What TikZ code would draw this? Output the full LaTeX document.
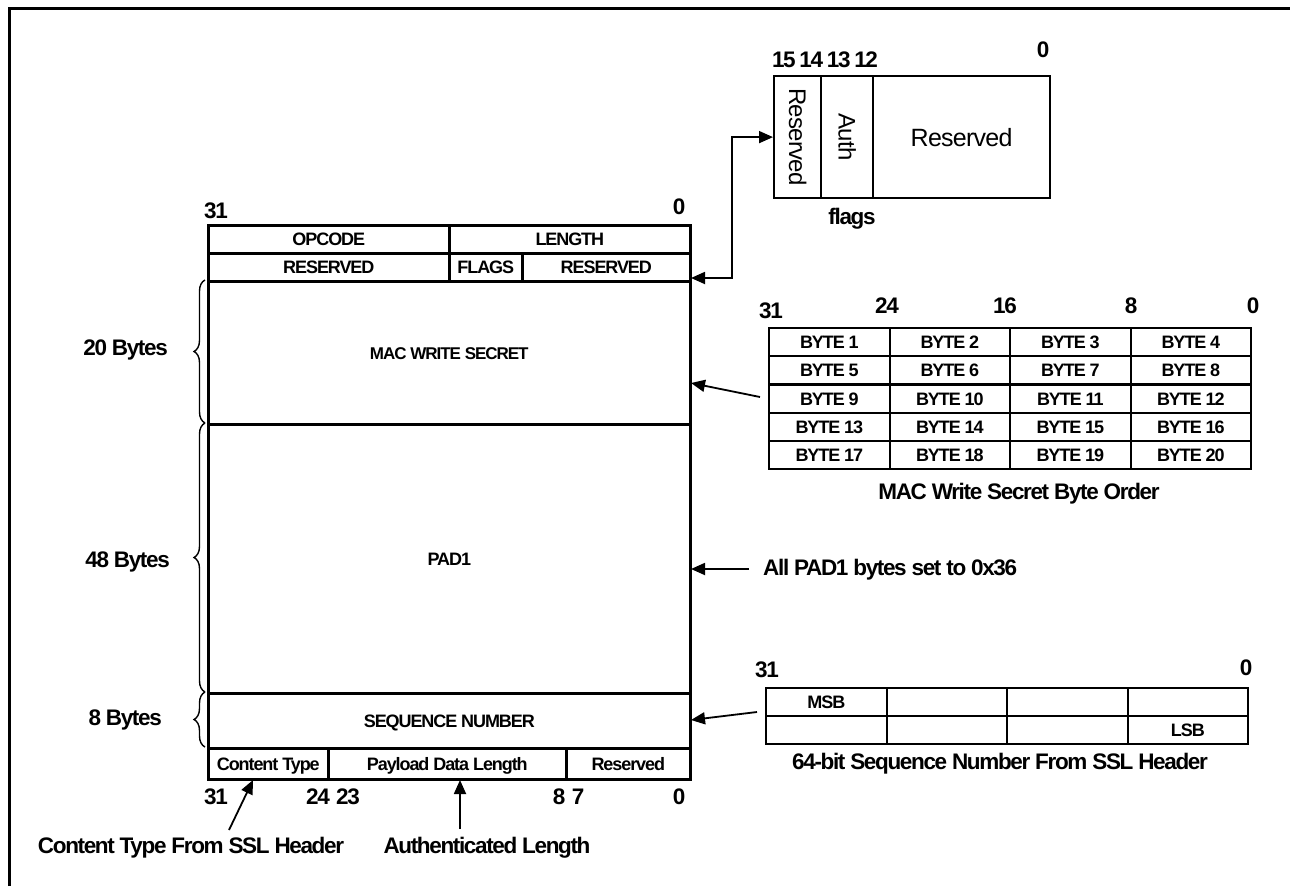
\documentclass[tikz,border=0pt]{standalone}
\usepackage{fontspec}
\setmainfont{Liberation Sans}[LetterSpace=-6]
\newfontfamily\regfont{Liberation Sans}[LetterSpace=-3]
\usetikzlibrary{arrows.meta,decorations.pathreplacing}
\tikzset{
  fld/.style={draw, line width=2.6pt, anchor=north west, inner sep=0pt, text height=12.9pt, text depth=0pt, font=\bfseries\fontsize{18}{20}\selectfont},
  cell/.style={draw, line width=2.2pt, anchor=north west, inner sep=0pt, text height=12.9pt, text depth=0pt, font=\bfseries\fontsize{18}{20}\selectfont},
  fbox/.style={draw, line width=2.2pt, anchor=north west, inner sep=0pt},
  big/.style={font=\bfseries\fontsize{22.5}{24}\selectfont, inner sep=0pt},
  bit/.style={font=\bfseries\fontsize{22.5}{24}\selectfont, inner sep=0pt},
  rot/.style={font=\regfont\fontsize{24}{26}\selectfont, inner sep=0pt, rotate=-90},
  arr/.style={line width=1.8pt, -{Triangle[length=14pt,width=12pt]}},
  dbl/.style={line width=1.8pt, {Triangle[length=14pt,width=12pt]}-{Triangle[length=14pt,width=12pt]}},
  brc/.style={line width=1.4pt, decorate, decoration={brace, amplitude=11pt}},
}
\begin{document}
\begin{tikzpicture}[x=1pt,y=-1pt]
\useasboundingbox (0,0) rectangle (1290,886);
% frame
\draw[line width=3pt] (9,886) -- (9,8.5) -- (1290,8.5);

% ---- flags box
\node[fbox, minimum width=47, minimum height=122] (fr1) at (773,75) {};
\node[fbox, minimum width=52, minimum height=122] (fau) at (820,75) {};
\node[fbox, minimum width=177, minimum height=122] (fr2) at (872,75) {};
\node[rot] (tr1) at (fr1.center) {Reserved};
\node[rot] (tau) at (fau.center) {Auth};
\node[font=\regfont\fontsize{25}{27}\selectfont, inner sep=0pt] (tr2) at (fr2.center) {Reserved};
\node[bit] (f15) at (825,60) {15\,14\,13\,12};
\node[bit] (f0) at (1043,50) {0};
\node[bit] (flabel) at (852,219) {flags};

% ---- main register
\node[bit] (m31) at (216,211) {31};
\node[bit] (m0) at (679,207) {0};
\node[fld, minimum width=241, minimum height=28] (opc) at (207,224) {OPCODE};
\node[fld, minimum width=241, minimum height=28] (len) at (448,224) {LENGTH};
\node[fld, minimum width=241, minimum height=28] (res1) at (207,252) {RESERVED};
\node[fld, minimum width=73, minimum height=28] (flg) at (448,252) {FLAGS};
\node[fld, minimum width=168, minimum height=28] (res2) at (521,252) {RESERVED};
\node[fld, minimum width=482, minimum height=143, font=\bfseries\fontsize{17}{19}\selectfont] (mac) at (207,280) {MAC WRITE SECRET};
\node[fld, minimum width=482, minimum height=269] (pad) at (207,423) {PAD1};
\node[fld, minimum width=482, minimum height=55] (seq) at (207,692) {SEQUENCE NUMBER};
\node[fld, minimum width=120, minimum height=31] (ct) at (207,747) {Content Type};
\node[fld, minimum width=238, minimum height=31] (pdl) at (327,747) {Payload Data Length};
\node[fld, minimum width=124, minimum height=31] (rsv) at (565,747) {Reserved};
\node[bit] (b31) at (216,797) {31};
\node[bit] (b24) at (318,797) {24};
\node[bit] (b23) at (348,797) {23};
\node[bit] (b8) at (559,797) {8};
\node[bit] (b7) at (578,797) {7};
\node[bit] (b0) at (679,797) {0};

% braces
\draw[brc] (205,423) -- (205,280);
\draw[brc] (205,692) -- (205,423);
\draw[brc] (205,747) -- (205,692);
\node[big, anchor=east] (l20) at (168,350) {20 Bytes};
\node[big, anchor=east] (l48) at (170,562) {48 Bytes};
\node[big, anchor=east] (l8) at (162,720) {8 Bytes};

% flags connector
\coordinate (fa) at (691,278);
\coordinate (fk) at (732,278);
\draw[dbl] (fa) -- (fk) |- (fr1.west);

% ---- MAC byte table
\node[bit] (t31) at (771,311) {31};
\node[bit] (t24) at (887,306) {24};
\node[bit] (t16) at (1005,306) {16};
\node[bit] (t8) at (1131,306) {8};
\node[bit] (t0) at (1253,306) {0};
\foreach \r in {0,...,4} {
  \foreach \c in {0,...,3} {
    \pgfmathtruncatemacro\n{\r*4+\c+1}
    \node[cell, minimum width=120.5, minimum height=28.2] (byte\n) at ({768+120.5*\c},{327+28.2*\r}) {BYTE \n};
  }
}
\node[big] (capmac) at (1019,494) {MAC Write Secret Byte Order};
\coordinate (mtail) at (760,397);
\coordinate (mhead) at (691,383);
\draw[arr] (mtail) -- (mhead);

% ---- PAD1 note
\coordinate (ptail) at (749,569);
\coordinate (phead) at (691,569);
\draw[arr] (ptail) -- (phead);
\node[big, anchor=west] (padnote) at (763,570) {All PAD1 bytes set to 0x36};

% ---- sequence table
\node[bit] (s31) at (767,670) {31};
\node[bit] (s0) at (1246,668) {0};
\node[cell, minimum width=120.5, minimum height=27.5] (q1) at (765,687) {MSB};
\node[cell, minimum width=120.5, minimum height=27.5] (q2) at (885.5,687) {};
\node[cell, minimum width=120.5, minimum height=27.5] (q3) at (1006,687) {};
\node[cell, minimum width=120.5, minimum height=27.5] (q4) at (1126.5,687) {};
\node[cell, minimum width=120.5, minimum height=28.5] (q5) at (765,714.5) {};
\node[cell, minimum width=120.5, minimum height=28.5] (q6) at (885.5,714.5) {};
\node[cell, minimum width=120.5, minimum height=28.5] (q7) at (1006,714.5) {};
\node[cell, minimum width=120.5, minimum height=28.5] (q8) at (1126.5,714.5) {LSB};
\node[big] (capseq) at (1000,764) {64-bit Sequence Number From SSL Header};
\coordinate (stail) at (757,712);
\coordinate (shead) at (691,720);
\draw[arr] (stail) -- (shead);

% ---- bottom notes
\node[big] (ctnote) at (191,848) {Content Type From SSL Header};
\node[big] (alnote) at (487,848) {Authenticated Length};
\coordinate (cttail) at (229,830);
\coordinate (cthead) at (253,780);
\draw[arr] (cttail) -- (cthead);
\coordinate (altail) at (460,829);
\coordinate (alhead) at (460,780);
\draw[arr] (altail) -- (alhead);
\end{tikzpicture}
\end{document}
